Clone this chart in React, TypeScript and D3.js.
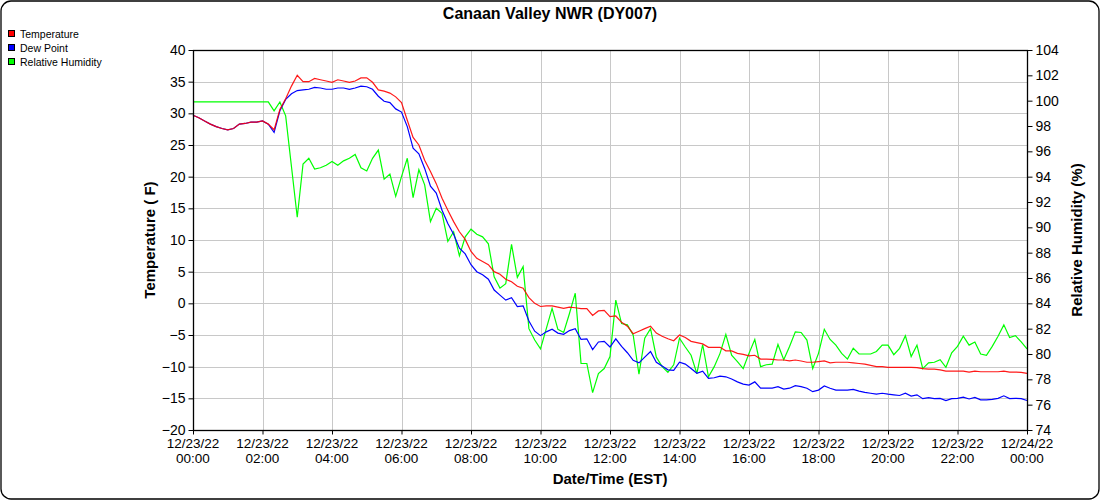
import React, { useEffect, useRef } from 'react';
import * as d3 from 'd3';

// 10-minute readings, 12/23/22 00:00 through 12/24/22 00:00
const startTime = new Date(2022, 11, 23, 0, 0);
const stepMinutes = 10;

const temperature: number[] = [
  29.7, 29.3, 28.8, 28.3, 27.9, 27.6, 27.4, 27.6, 28.3, 28.4, 28.6, 28.6, 28.8, 28.3, 27.4, 30.6, 32.3,
  34.3, 36.0, 35.0, 35.0, 35.5, 35.3, 35.1, 34.9, 35.3, 35.1, 34.9, 35.1, 35.6, 35.6, 34.9, 33.7, 33.5, 33.2, 32.6, 31.7,
  28.9, 26.2, 25.0, 22.6, 20.8, 18.9, 16.6, 14.7, 12.9, 11.3, 10.1, 8.2, 7.1, 6.6, 6.1, 5.0, 4.6, 3.8, 3.4, 2.7, 2.4,
  0.9, 0.0, -0.5, -0.4, -0.4, -0.6, -0.8, -0.6, -0.7, -0.85, -0.85, -1.9, -1.2, -1.1, -2.1, -2.0, -3.0, -3.6, -4.8, -4.4,
  -4.0, -3.6, -4.7, -5.2, -5.6, -5.9, -5.0,
  -5.4, -6.0, -6.2, -6.4, -6.95, -6.95, -6.95, -7.5, -7.5, -7.9, -8.05, -8.3, -8.2, -8.8, -8.8, -8.85, -8.95, -8.95,
  -9.1, -8.95, -9.1, -9.3, -9.3, -9.2, -9.1, -9.4, -9.3, -9.3, -9.3, -9.4,
  -9.5, -9.6, -9.8, -10.0, -10.0, -10.1, -10.1, -10.1, -10.1, -10.1, -10.15, -10.3, -10.4, -10.4, -10.5, -10.7, -10.7,
  -10.7, -10.7, -10.85, -10.7, -10.8, -10.8, -10.8, -10.8, -10.7, -10.85, -10.85, -10.9, -11.05,
];

const dewPoint: number[] = [
  29.7, 29.3, 28.8, 28.3, 27.9, 27.6, 27.4, 27.6, 28.3, 28.4, 28.6, 28.6, 28.8, 28.3, 27.0, 30.4, 32.2,
  33.1, 33.6, 33.7, 33.8, 34.1, 34.0, 33.8, 33.8, 34.0, 34.0, 33.8, 34.0, 34.3, 34.2, 33.8, 32.7, 31.9, 31.7, 30.7, 30.2,
  27.9, 24.5, 23.6, 21.3, 18.5, 17.4, 14.7, 12.6, 10.9, 8.7, 7.8, 6.1, 5.0, 4.5, 3.8, 2.1, 1.3, 0.5, 0.9, -0.5, -0.4,
  -2.8, -4.4, -5.1, -4.5, -4.1, -4.7, -4.9, -4.3, -4.0, -5.7, -5.6, -7.3, -6.1, -6.0, -6.9, -5.6, -6.8, -7.8, -9.0, -9.4,
  -8.5, -7.6, -9.3, -9.9, -10.5, -10.6, -9.3,
  -9.6, -10.3, -11.05, -10.7, -11.85, -11.75, -11.5, -11.6, -11.95, -12.4, -12.75, -12.9, -12.4, -13.4, -13.4, -13.4,
  -13.15, -13.55, -13.4, -13.0, -13.15, -13.4, -13.95, -13.7, -13.05, -13.4, -13.7, -13.7, -13.7, -13.6,
  -13.85, -14.05, -14.2, -14.35, -14.2, -14.35, -14.45, -14.55, -14.2, -14.65, -14.45, -15.05, -14.9, -15.05, -15.0,
  -15.35, -15.05, -15.0, -14.8, -15.1, -14.85, -15.25, -15.25, -15.15, -15.0, -14.6, -15.05, -15.0, -15.05, -15.35,
];

const humidity: number[] = [
  99.9, 99.9, 99.9, 99.9, 99.9, 99.9, 99.9, 99.9, 99.9, 99.9, 99.9, 99.9, 99.9, 99.9, 99.2, 99.9, 98.8,
  94.8, 90.8, 95.0, 95.45, 94.6, 94.7, 94.9, 95.2, 94.9, 95.25, 95.45, 95.75, 94.7, 94.45, 95.45, 96.1, 93.8, 94.2, 92.45, 94.0,
  95.45, 92.35, 94.55, 93.35, 90.45, 91.5, 91.1, 88.9, 89.65, 87.75, 89.25, 89.85, 89.45, 89.25, 88.7, 86.1, 85.2, 85.55,
  88.65, 86.05, 86.9,
  82.0, 81.1, 80.4, 82.0, 83.6, 81.95, 81.7, 83.2, 84.8, 79.25, 79.25, 76.95, 78.45, 78.85, 79.8, 84.25, 82.4, 82.3, 81.5,
  78.4, 81.25, 82.0, 79.75, 79.0, 78.55, 79.15, 81.25,
  80.55, 79.9, 78.45, 80.75, 78.2, 79.0, 80.05, 81.55, 79.9, 79.4, 78.85, 80.05, 81.15, 79.0, 79.15, 79.2, 80.75, 79.55,
  80.6, 81.75, 81.7, 81.1, 78.85, 80.05, 81.95, 81.15, 80.7, 80.05, 79.6, 80.45,
  80.0, 80.0, 80.0, 80.2, 80.7, 80.7, 79.95, 80.45, 81.45, 79.8, 80.7, 78.85, 79.3, 79.35, 79.55, 78.95, 80.1, 80.6,
  81.4, 80.7, 80.95, 80.0, 79.9, 80.6, 81.4, 82.3, 81.3, 81.45, 80.95, 80.4,
];

const leftTicks = [-20, -15, -10, -5, 0, 5, 10, 15, 20, 25, 30, 35, 40];
const rightTicks = [74, 76, 78, 80, 82, 84, 86, 88, 90, 92, 94, 96, 98, 100, 102, 104];

const legendItems = [
  { label: 'Temperature', color: '#ff0000' },
  { label: 'Dew Point', color: '#0000ff' },
  { label: 'Relative Humidity', color: '#00ff00' },
];

const WIDTH = 1100;
const HEIGHT = 500;
const FONT = '"Liberation Sans", Arial, sans-serif';

const App: React.FC = () => {
  const svgRef = useRef<SVGSVGElement | null>(null);

  useEffect(() => {
    if (!svgRef.current) return;
    document.body.style.margin = '0';

    const marginLeft = 193;
    const marginRight = 73;
    const marginTop = 50;
    const marginBottom = 70;
    const plotRight = WIDTH - marginRight;
    const plotBottom = HEIGHT - marginBottom;

    const svg = d3.select(svgRef.current);
    svg.selectAll('*').remove();

    const times = temperature.map((_, i) => new Date(startTime.getTime() + i * stepMinutes * 60000));

    const x = d3.scaleTime()
      .domain([times[0], times[times.length - 1]])
      .range([marginLeft, plotRight]);
    const yLeft = d3.scaleLinear().domain([-20, 40]).range([plotBottom, marginTop]);
    const yRight = d3.scaleLinear().domain([74, 104]).range([plotBottom, marginTop]);

    // Outer frame
    svg.append('rect')
      .attr('x', 1).attr('y', 1)
      .attr('width', WIDTH - 2).attr('height', HEIGHT - 2)
      .attr('rx', 10)
      .attr('fill', '#fff')
      .attr('stroke', '#000')
      .attr('stroke-width', 1.3);

    // Title
    svg.append('text')
      .attr('x', 550).attr('y', 19)
      .attr('text-anchor', 'middle')
      .attr('font-family', FONT)
      .attr('font-weight', 'bold')
      .attr('font-size', 16)
      .text('Canaan Valley NWR (DY007)');

    // Legend
    const legend = svg.append('g');
    legendItems.forEach((item, i) => {
      legend.append('rect')
        .attr('x', 8.5).attr('y', 30.5 + i * 14)
        .attr('width', 6).attr('height', 6)
        .attr('fill', item.color)
        .attr('stroke', '#000')
        .attr('stroke-width', 1);
      legend.append('text')
        .attr('x', 20).attr('y', 37.5 + i * 14)
        .attr('font-family', FONT)
        .attr('font-size', 10.5)
        .attr('fill', '#000')
        .text(item.label);
    });

    // Grid
    const xTicks = x.ticks(d3.timeHour.every(2)!);
    const grid = svg.append('g').attr('stroke', '#c8c8c8').attr('stroke-width', 1);
    leftTicks.forEach(t => {
      grid.append('line')
        .attr('x1', marginLeft).attr('x2', plotRight)
        .attr('y1', Math.round(yLeft(t)) + 0.5).attr('y2', Math.round(yLeft(t)) + 0.5);
    });
    xTicks.forEach(t => {
      grid.append('line')
        .attr('x1', Math.round(x(t)) + 0.5).attr('x2', Math.round(x(t)) + 0.5)
        .attr('y1', marginTop).attr('y2', plotBottom);
    });

    // Series
    const lineLeft = d3.line<number>()
      .x((_, i) => x(times[i]))
      .y(d => yLeft(d));
    const lineRight = d3.line<number>()
      .x((_, i) => x(times[i]))
      .y(d => yRight(d));

    svg.append('path')
      .attr('d', lineRight(humidity) || '')
      .attr('fill', 'none')
      .attr('stroke', '#00ff00')
      .attr('stroke-width', 1.2);
    svg.append('path')
      .attr('d', lineLeft(dewPoint) || '')
      .attr('fill', 'none')
      .attr('stroke', '#0000ff')
      .attr('stroke-width', 1.2);
    svg.append('path')
      .attr('d', lineLeft(temperature) || '')
      .attr('fill', 'none')
      .attr('stroke', '#ff0000')
      .attr('stroke-width', 1.2)
      .attr('stroke-opacity', 0.9);

    // Plot frame
    svg.append('rect')
      .attr('x', marginLeft + 0.5).attr('y', marginTop + 0.5)
      .attr('width', plotRight - marginLeft).attr('height', plotBottom - marginTop)
      .attr('fill', 'none')
      .attr('stroke', '#000')
      .attr('stroke-width', 1.3);

    // Left axis
    const leftAxis = svg.append('g')
      .attr('transform', `translate(${marginLeft + 0.5},0)`)
      .call(d3.axisLeft(yLeft).tickValues(leftTicks).tickSize(5).tickPadding(3));
    leftAxis.select('.domain').remove();
    leftAxis.selectAll('line').attr('stroke', '#000');
    leftAxis.selectAll('text')
      .attr('font-family', FONT).attr('font-size', 14).attr('fill', '#000');

    // Right axis
    const rightAxis = svg.append('g')
      .attr('transform', `translate(${plotRight + 0.5},0)`)
      .call(d3.axisRight(yRight).tickValues(rightTicks).tickSize(5).tickPadding(3));
    rightAxis.select('.domain').remove();
    rightAxis.selectAll('line').attr('stroke', '#000');
    rightAxis.selectAll('text')
      .attr('font-family', FONT).attr('font-size', 14).attr('fill', '#000');

    // Bottom axis with two-line labels
    const fmtDate = d3.timeFormat('%m/%d/%y');
    const fmtTime = d3.timeFormat('%H:%M');
    const bottomAxis = svg.append('g')
      .attr('transform', `translate(0,${plotBottom + 0.5})`)
      .call(d3.axisBottom(x).tickValues(xTicks).tickSize(4).tickFormat(() => ''));
    bottomAxis.select('.domain').remove();
    bottomAxis.selectAll('line').attr('stroke', '#000');
    const xLabels = svg.append('g')
      .attr('font-family', FONT)
      .attr('font-size', 13.5)
      .attr('text-anchor', 'middle');
    xTicks.forEach(t => {
      const label = xLabels.append('text').attr('x', x(t));
      label.append('tspan').attr('x', x(t)).attr('y', plotBottom + 18).text(fmtDate(t));
      label.append('tspan').attr('x', x(t)).attr('y', plotBottom + 33).text(fmtTime(t));
    });

    // Axis titles
    svg.append('text')
      .attr('transform', `translate(155,${(marginTop + plotBottom) / 2}) rotate(-90)`)
      .attr('text-anchor', 'middle')
      .attr('font-family', FONT).attr('font-weight', 'bold').attr('font-size', 15)
      .text('Temperature ( F)');
    svg.append('text')
      .attr('transform', `translate(1082,${(marginTop + plotBottom) / 2}) rotate(-90)`)
      .attr('text-anchor', 'middle')
      .attr('font-family', FONT).attr('font-weight', 'bold').attr('font-size', 15)
      .text('Relative Humidity (%)');
    svg.append('text')
      .attr('x', (marginLeft + plotRight) / 2).attr('y', 484)
      .attr('text-anchor', 'middle')
      .attr('font-family', FONT).attr('font-weight', 'bold').attr('font-size', 15)
      .text('Date/Time (EST)');
  }, []);

  return (
    <div style={{ position: 'absolute', left: 0, top: 0, width: WIDTH, height: HEIGHT }}>
      <svg ref={svgRef} width={WIDTH} height={HEIGHT} style={{ display: 'block' }} />
    </div>
  );
};

export default App;
